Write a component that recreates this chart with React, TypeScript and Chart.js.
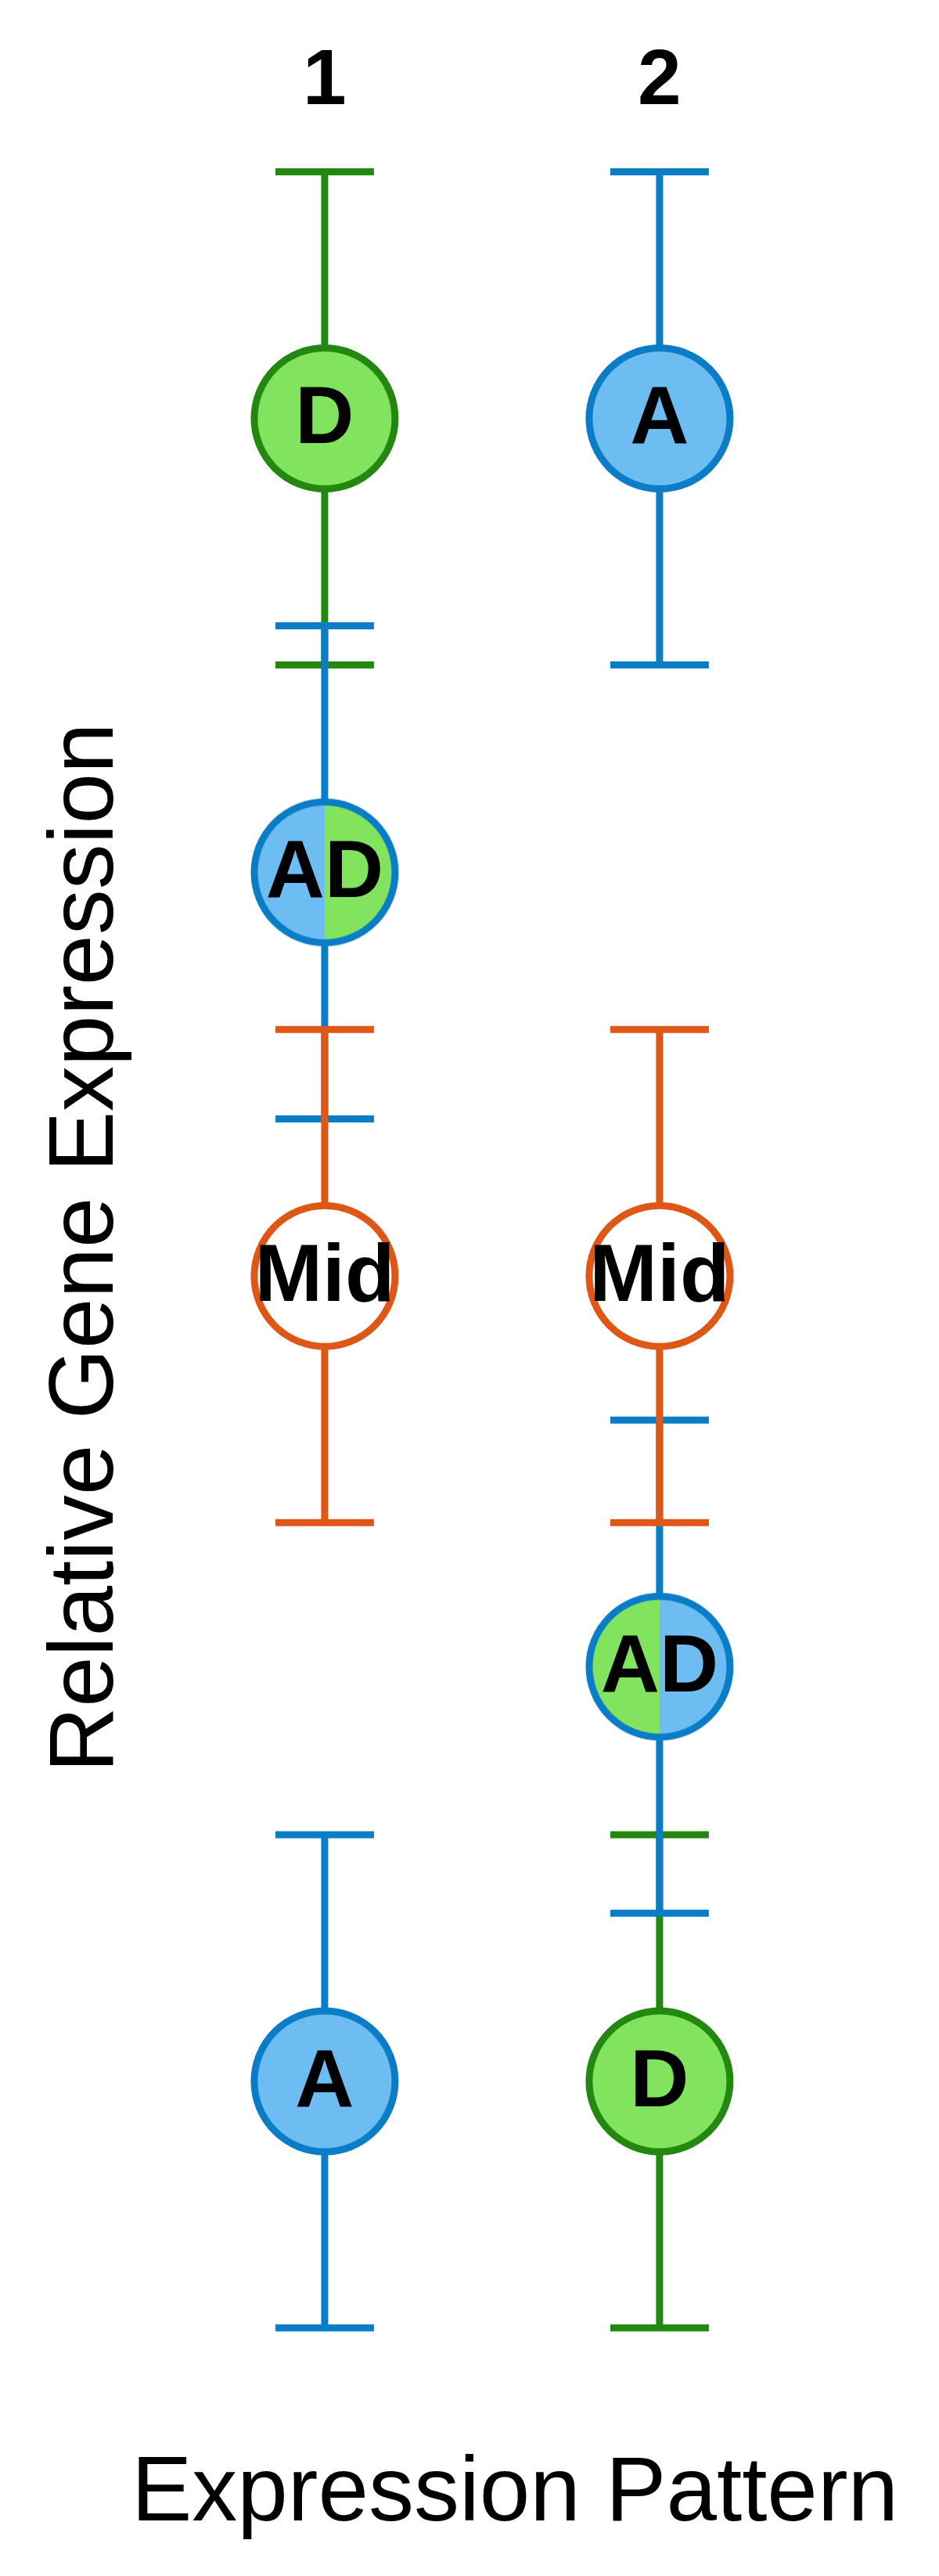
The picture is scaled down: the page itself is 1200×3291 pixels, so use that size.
import React, { useEffect, useRef } from 'react';
import { Chart, registerables } from 'chart.js';

Chart.register(...registerables);

// ---- data ----
const patternPositions = [1, 2];
const patternLabels = ['1', '2'];
const groupNames = ['D', 'AD', 'Mid', 'A'];
const pattern1Means = [8.8, 6.72, 4.87, 1.18];
const pattern2Means = [1.18, 3.08, 4.87, 8.8];
const pattern1Errors = [1.13, 1.13, 1.13, 1.13];
const pattern2Errors = [1.13, 1.13, 1.13, 1.13];
const yAxisTitle = 'Relative Gene Expression';
const xAxisTitle = 'Expression Pattern';

// ---- styles ----
const BLUE = '#0b7cc6';
const BLUE_FILL = '#6dbdf2';
const GREEN = '#23880f';
const GREEN_FILL = '#82e35e';
const ORANGE = '#df5716';
const FONT = "'Liberation Sans', Arial, Helvetica, sans-serif";

const lineColor: Record<string, string> = { D: GREEN, AD: BLUE, Mid: ORANGE, A: BLUE };
const fillColor: Record<string, string> = { D: GREEN_FILL, AD: BLUE_FILL, Mid: '#ffffff', A: BLUE_FILL };
const drawOrder: Record<string, number> = { D: 40, AD: 30, A: 30, Mid: 20 };

const CIRCLE_R = 90;
const CIRCLE_BW = 9;
const BAR_W = 9;
const CAP_HALF = 63;

function makeSplitCircle(leftFill: string, rightFill: string, border: string) {
  const r = CIRCLE_R;
  const size = Math.ceil(2 * (r + CIRCLE_BW)) + 2;
  const c = document.createElement('canvas');
  c.width = size;
  c.height = size;
  const ctx = c.getContext('2d')!;
  const cx = size / 2;
  ctx.beginPath();
  ctx.moveTo(cx, cx);
  ctx.arc(cx, cx, r, Math.PI / 2, (Math.PI * 3) / 2);
  ctx.closePath();
  ctx.fillStyle = leftFill;
  ctx.fill();
  ctx.beginPath();
  ctx.moveTo(cx, cx);
  ctx.arc(cx, cx, r, -Math.PI / 2, Math.PI / 2);
  ctx.closePath();
  ctx.fillStyle = rightFill;
  ctx.fill();
  ctx.beginPath();
  ctx.arc(cx, cx, r, 0, Math.PI * 2);
  ctx.lineWidth = CIRCLE_BW;
  ctx.strokeStyle = border;
  ctx.stroke();
  return c;
}

export default function App() {
  const ref = useRef<HTMLCanvasElement | null>(null);

  useEffect(() => {
    document.body.style.margin = '0';
    const canvas = ref.current;
    if (!canvas) return;

    const means = [pattern1Means, pattern2Means];
    const errors = [pattern1Errors, pattern2Errors];

    const datasets: any[] = [];
    // error bars
    patternPositions.forEach((px, pi) => {
      groupNames.forEach((g, gi) => {
        const m = means[pi][gi];
        const e = errors[pi][gi];
        datasets.push({
          type: 'line',
          data: [
            { x: px, y: m - e },
            { x: px, y: m + e },
          ],
          borderColor: lineColor[g],
          borderWidth: BAR_W,
          pointStyle: 'line',
          pointRadius: CAP_HALF,
          pointHoverRadius: CAP_HALF,
          pointBorderWidth: BAR_W,
          pointBorderColor: lineColor[g],
          pointBackgroundColor: lineColor[g],
          fill: false,
          tension: 0,
          clip: false,
          order: drawOrder[g],
          xAxisID: 'x',
          yAxisID: 'y',
        });
      });
    });

    // circles
    const circleData: any[] = [];
    const circleStyles: any[] = [];
    const circleBg: string[] = [];
    const circleBorder: string[] = [];
    patternPositions.forEach((px, pi) => {
      groupNames.forEach((g, gi) => {
        circleData.push({ x: px, y: means[pi][gi], label: g });
        if (g === 'AD') {
          circleStyles.push(
            pi === 0
              ? makeSplitCircle(BLUE_FILL, GREEN_FILL, BLUE)
              : makeSplitCircle(GREEN_FILL, BLUE_FILL, BLUE)
          );
        } else {
          circleStyles.push('circle');
        }
        circleBg.push(fillColor[g]);
        circleBorder.push(lineColor[g]);
      });
    });
    const circleIndex = datasets.length;
    datasets.push({
      type: 'scatter',
      data: circleData,
      pointStyle: circleStyles,
      pointRadius: CIRCLE_R,
      pointHoverRadius: CIRCLE_R,
      pointBorderWidth: CIRCLE_BW,
      pointBackgroundColor: circleBg,
      pointBorderColor: circleBorder,
      clip: false,
      order: 1,
      xAxisID: 'x',
      yAxisID: 'y',
    });

    const labelPlugin = {
      id: 'circleLabels',
      afterDatasetsDraw(chart: any) {
        const meta = chart.getDatasetMeta(circleIndex);
        const ctx = chart.ctx;
        ctx.save();
        ctx.fillStyle = '#000';
        ctx.font = `bold 104px ${FONT}`;
        ctx.textAlign = 'center';
        ctx.textBaseline = 'middle';
        meta.data.forEach((el: any, i: number) => {
          const lbl = chart.data.datasets[circleIndex].data[i].label;
          ctx.fillText(lbl, el.x, el.y + 3);
        });
        ctx.restore();
      },
    };

    // chart area spans x = 150 .. 1166 px; category 1 at ~415 px, 2 at ~843 px
    const xMin = 0.381;
    const xMax = 2.755;

    const chart = new Chart(canvas, {
      type: 'scatter',
      data: { datasets },
      plugins: [labelPlugin],
      options: {
        animation: false,
        responsive: false,
        devicePixelRatio: 1,
        events: [],
        layout: { autoPadding: false, padding: { top: 0, right: 34, bottom: 0, left: 0 } },
        plugins: {
          legend: { display: false },
          tooltip: { enabled: false },
        },
        scales: {
          x: {
            type: 'linear',
            position: 'top',
            min: xMin,
            max: xMax,
            afterBuildTicks: (scale: any) => {
              scale.ticks = patternPositions.map((v) => ({ value: v }));
            },
            afterFit: (scale: any) => {
              scale.height = 200;
            },
            ticks: {
              callback: (v: any) => patternLabels[patternPositions.indexOf(Number(v))] ?? '',
              font: { family: FONT, size: 100, weight: 'bold' },
              color: '#000',
              padding: 35,
              maxRotation: 0,
              autoSkip: false,
            },
            grid: { display: false, drawTicks: false },
            border: { display: false },
          },
          x2: {
            type: 'linear',
            position: 'bottom',
            min: xMin,
            max: xMax,
            afterFit: (scale: any) => {
              scale.height = 303;
            },
            ticks: { display: false },
            grid: { display: false, drawTicks: false },
            border: { display: false },
            title: {
              display: true,
              text: xAxisTitle,
              font: { family: FONT, size: 116 },
              color: '#000',
              padding: { top: 120, bottom: 33 },
            },
          },
          y: {
            type: 'linear',
            min: 0,
            max: 10,
            afterFit: (scale: any) => {
              scale.width = 150;
            },
            ticks: { display: false },
            grid: { display: false, drawTicks: false },
            border: { display: false },
            title: {
              display: true,
              text: yAxisTitle,
              font: { family: FONT, size: 116 },
              color: '#000',
              padding: { top: 42, bottom: 0 },
            },
          },
        },
      } as any,
    });

    return () => chart.destroy();
  }, []);

  return (
    <div style={{ position: 'absolute', left: 0, top: 0, width: 1200, height: 3291, background: '#fff' }}>
      <canvas ref={ref} width={1200} height={3291} style={{ display: 'block' }} />
    </div>
  );
}
